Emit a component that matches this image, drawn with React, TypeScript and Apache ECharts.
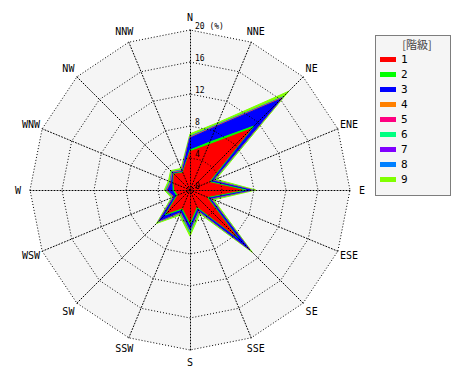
import { useEffect, useRef } from 'react';
import * as echarts from 'echarts';

const directions = ['N', 'NNE', 'NE', 'ENE', 'E', 'ESE', 'SE', 'SSE', 'S', 'SSW', 'SW', 'WSW', 'W', 'WNW', 'NW', 'NNW'];
const classNames = ['1', '2', '3', '4', '5', '6', '7', '8', '9'];
const classColors = ['#ff0000', '#00ff00', '#0000ff', '#ff8000', '#ff0080', '#00ff80', '#8000ff', '#0080ff', '#80ff00'];

// percentages per class, by direction (N, NNE, ..., NNW)
const class1 = [4.8, 6.1, 10.8, 2.5, 6.5, 2.2, 8.2, 2.2, 4.0, 2.4, 4.1, 1.6, 1.9, 2.2, 2.8, 2.3];
const class2 = [0.2, 0.4, 0.5, 0.2, 0.5, 0.2, 0.3, 0.2, 0.3, 0.2, 0.3, 0.2, 0.2, 0.1, 0.1, 0.1];
const class3 = [1.5, 2.1, 4.8, 0.3, 0.6, 0.3, 1.9, 0.3, 0.6, 0.3, 1.0, 0.3, 0.7, 0.2, 0.1, 0.1];
const class4 = [0.05, 0.05, 0.1, 0.05, 0.05, 0.05, 0.05, 0.05, 0.05, 0.05, 0.05, 0.05, 0.05, 0.05, 0.05, 0.05];
const class5 = [0.05, 0.05, 0.1, 0.05, 0.05, 0.05, 0.05, 0.05, 0.05, 0.05, 0.05, 0.05, 0.05, 0.05, 0.05, 0.05];
const class6 = [0.05, 0.05, 0.05, 0.05, 0.05, 0.05, 0.05, 0.05, 0.2, 0.05, 0.05, 0.05, 0.05, 0.05, 0.05, 0.05];
const class7 = [0.02, 0.02, 0.02, 0.02, 0.02, 0.02, 0.02, 0.02, 0.02, 0.02, 0.02, 0.02, 0.02, 0.02, 0.02, 0.02];
const class8 = [0.05, 0.05, 0.1, 0.05, 0.05, 0.05, 0.05, 0.05, 0.05, 0.05, 0.05, 0.05, 0.05, 0.05, 0.05, 0.05];
const class9 = [0.3, 0.3, 1.0, 0.3, 0.4, 0.3, 0.4, 0.3, 0.5, 0.3, 0.3, 0.2, 0.2, 0.2, 0.2, 0.2];

const classValues = [class1, class2, class3, class4, class5, class6, class7, class8, class9];
const axisMax = 20;
const axisSplit = 5;
const unitLabel = '(%)';

const mono = '"DejaVu Sans Mono", monospace';

export default function App() {
  const ref = useRef<HTMLDivElement>(null);
  useEffect(() => {
    if (!ref.current) return;
    const chart = echarts.init(ref.current, null, { renderer: 'svg' });
    // ECharts radar runs counter-clockwise: reorder N, NNW, NW, ... NNE
    const order = directions.map((_, i) => (16 - i) % 16);
    const cum: number[][] = [];
    classValues.forEach((arr, k) => {
      cum.push(arr.map((v, d) => +(v + (k > 0 ? cum[k - 1][d] : 0)).toFixed(3)));
    });
    const dotted = { color: '#000', width: 1, type: [1, 2] as any };
    const makeIndicator = (withLabels: boolean) =>
      order.map((d, i) => {
        const ind: any = { name: directions[d], min: 0, max: axisMax };
        if (withLabels && i === 0) {
          ind.axisLabel = {
            show: true,
            color: '#000',
            fontSize: 8,
            fontFamily: mono,
            margin: -5,
            align: 'left',
            verticalAlign: 'bottom',
            formatter: (v: number) => (v === axisMax ? `${v} ${unitLabel}` : String(v)),
          };
        }
        return ind;
      });
    const series: any[] = [];
    for (let k = classNames.length - 1; k >= 0; k--) {
      series.push({
        type: 'radar',
        name: classNames[k],
        radarIndex: 0,
        symbol: 'none',
        silent: true,
        z: 2,
        itemStyle: { color: classColors[k] },
        lineStyle: { color: classColors[k], width: 1 },
        areaStyle: { color: classColors[k], opacity: 1 },
        data: [{ name: classNames[k], value: order.map((d) => cum[k][d]) }],
      });
    }
    const common = {
      center: [190, 190],
      radius: 160,
      startAngle: 90,
      shape: 'polygon',
      splitNumber: axisSplit,
    };
    chart.setOption({
      animation: false,
      backgroundColor: '#fff',
      radar: [
        {
          ...common,
          z: 1,
          indicator: makeIndicator(false),
          axisName: { show: false },
          axisLine: { show: false },
          splitLine: { show: false },
          splitArea: { show: true, areaStyle: { color: ['#f5f5f5'] } },
          axisTick: { show: false },
        },
        {
          ...common,
          z: 3,
          indicator: makeIndicator(true),
          nameGap: 12,
          axisName: { color: '#000', fontSize: 10, fontFamily: mono, align: 'center', verticalAlign: 'middle' },
          axisLine: { lineStyle: dotted },
          splitLine: { lineStyle: dotted },
          splitArea: { show: false },
          axisTick: { show: false },
        },
      ],
      legend: {
        orient: 'vertical',
        left: 375,
        top: 47,
        icon: 'rect',
        itemWidth: 16,
        itemHeight: 5,
        itemGap: 0,
        data: classNames,
        selectedMode: false,
        textStyle: { color: '#000', fontSize: 11, lineHeight: 15, fontFamily: mono },
      },
      graphic: [
        {
          type: 'rect',
          z: 0,
          shape: { x: 375.5, y: 35.5, width: 75, height: 160 },
          style: { fill: '#f5f5f5', stroke: '#000', lineWidth: 1, lineDash: [1, 1] },
        },
        {
          type: 'text',
          z: 1,
          x: 417,
          y: 44,
          style: {
            text: '[階級]',
            fill: '#444',
            font: '11px "Noto Sans CJK JP"',
            align: 'center',
            verticalAlign: 'middle',
          },
        },
      ],
      series,
    });
    return () => chart.dispose();
  }, []);
  return <div ref={ref} style={{ position: 'fixed', left: 0, top: 0, width: 470, height: 380 }} />;
}
